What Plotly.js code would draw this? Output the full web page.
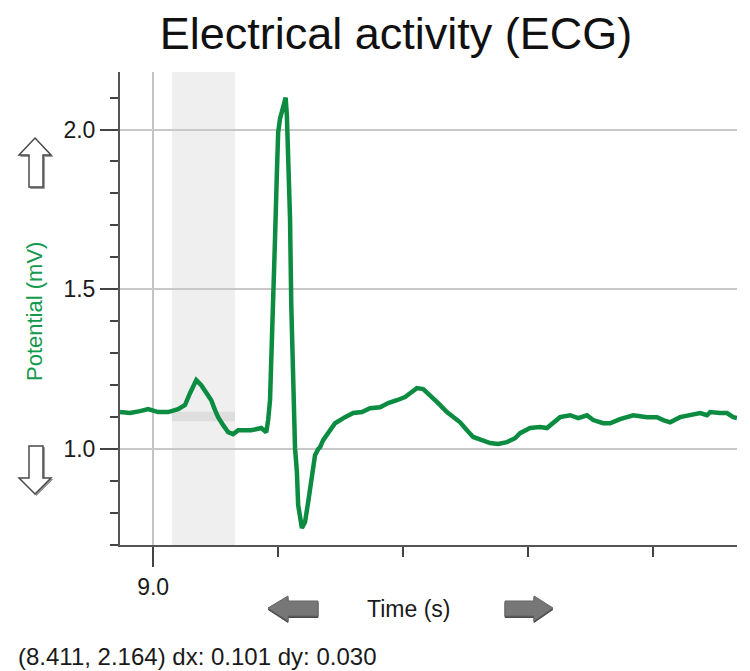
<!DOCTYPE html>
<html>
<head>
<meta charset="utf-8">
<script src="https://cdn.plot.ly/plotly-3.0.1.min.js"></script>
<style>html,body{margin:0;padding:0;background:#fff;}#chart{width:750px;height:671px;}</style>
</head>
<body>
<div id="chart"></div>
<script>
// ECG samples (time in s, potential in mV)
var timeS = [8.947, 8.963, 8.979, 8.992, 9.008, 9.024, 9.040, 9.051, 9.059, 9.064, 9.069, 9.077, 9.085, 9.093, 9.099, 9.104, 9.112, 9.120, 9.128, 9.136, 9.157, 9.173, 9.181, 9.184, 9.187, 9.190, 9.192, 9.195, 9.198, 9.200, 9.203, 9.206, 9.209, 9.212, 9.214, 9.216, 9.219, 9.221, 9.224, 9.227, 9.230, 9.232, 9.238, 9.243, 9.248, 9.254, 9.259, 9.264, 9.267, 9.272, 9.280, 9.291, 9.307, 9.320, 9.334, 9.347, 9.363, 9.376, 9.390, 9.403, 9.411, 9.422, 9.432, 9.443, 9.456, 9.470, 9.480, 9.491, 9.502, 9.512, 9.526, 9.539, 9.552, 9.566, 9.579, 9.587, 9.603, 9.619, 9.630, 9.640, 9.651, 9.667, 9.680, 9.694, 9.704, 9.720, 9.731, 9.747, 9.768, 9.790, 9.806, 9.816, 9.827, 9.843, 9.859, 9.875, 9.886, 9.891, 9.907, 9.918, 9.928, 9.934];
var potentialMV = [1.116, 1.113, 1.119, 1.125, 1.116, 1.116, 1.125, 1.138, 1.175, 1.200, 1.216, 1.200, 1.178, 1.153, 1.122, 1.100, 1.075, 1.053, 1.047, 1.059, 1.059, 1.066, 1.053, 1.091, 1.153, 1.316, 1.475, 1.659, 1.866, 1.991, 2.034, 2.060, 2.085, 2.100, 2.040, 1.940, 1.722, 1.450, 1.163, 1.003, 0.928, 0.825, 0.753, 0.772, 0.834, 0.928, 0.981, 1.000, 1.006, 1.028, 1.050, 1.081, 1.100, 1.113, 1.116, 1.128, 1.131, 1.144, 1.153, 1.163, 1.175, 1.191, 1.188, 1.169, 1.144, 1.116, 1.100, 1.084, 1.059, 1.038, 1.028, 1.019, 1.016, 1.022, 1.034, 1.050, 1.066, 1.069, 1.066, 1.084, 1.100, 1.106, 1.097, 1.106, 1.091, 1.081, 1.081, 1.094, 1.106, 1.100, 1.100, 1.091, 1.084, 1.100, 1.106, 1.113, 1.106, 1.116, 1.113, 1.113, 1.100, 1.097];

var xRange = [8.947, 9.934];
var yRange = [0.70, 2.18];
var xTickVals = [9.0];
var xTickText = ['9.0'];
var yTickVals = [1.0, 1.5, 2.0];
var yTickText = ['1.0', '1.5', '2.0'];
var selectionX = [9.030, 9.131];   // dx 0.101
var selectionY = [1.087, 1.117];   // dy 0.030
var titleText = 'Electrical activity (ECG)';
var yTitle = 'Potential (mV)';
var xTitle = 'Time (s)';
var statusText = '(8.411, 2.164) dx: 0.101 dy: 0.030';

// layout geometry (pixels)
var W = 750, H = 671, L = 120, R = 13, T = 72, B = 126;
var PW = W - L - R, PH = H - T - B;
function px(x) { return (x - L) / PW; }
function py(y) { return (H - B - y) / PH; }
function path(pts) {
  return 'M' + pts.map(function (p) { return px(p[0]).toFixed(5) + ',' + py(p[1]).toFixed(5); }).join(' L') + ' Z';
}
function shift(pts, dx, dy) { return pts.map(function (p) { return [p[0] + dx, p[1] + dy]; }); }

var upArrow = [[35,138],[51,155],[43,155],[43,187],[29,187],[29,155],[19,155]];
var downArrow = [[29,446],[43,446],[43,478],[51,478],[35,494],[19,478],[29,478]];
var leftArrow = [[268,608],[288,596],[288,601],[318,601],[318,616],[288,616],[288,621]];
var rightArrow = [[505,601],[534,601],[534,596],[553,608],[534,621],[534,616],[505,616]];

var FONT = 'Liberation Sans, Arial, sans-serif';

var shapes = [
  {type:'rect', xref:'x', yref:'paper', x0:selectionX[0], x1:selectionX[1], y0:0, y1:1,
   fillcolor:'#efefef', line:{width:0}, layer:'below'},
  {type:'rect', xref:'x', yref:'y', x0:selectionX[0], x1:selectionX[1], y0:selectionY[0], y1:selectionY[1],
   fillcolor:'#dedede', line:{width:0}, layer:'below'},
  {type:'path', xref:'paper', yref:'paper', path:path(shift(upArrow,1.5,1.5)), fillcolor:'#9a9a9a', line:{color:'#9a9a9a', width:1}},
  {type:'path', xref:'paper', yref:'paper', path:path(upArrow), fillcolor:'#ffffff', line:{color:'#4a4a4a', width:1.5}},
  {type:'path', xref:'paper', yref:'paper', path:path(shift(downArrow,1.5,1.5)), fillcolor:'#9a9a9a', line:{color:'#9a9a9a', width:1}},
  {type:'path', xref:'paper', yref:'paper', path:path(downArrow), fillcolor:'#ffffff', line:{color:'#4a4a4a', width:1.5}},
  {type:'path', xref:'paper', yref:'paper', path:path(shift(leftArrow,0,1.5)), fillcolor:'#4a4a4a', line:{color:'#4a4a4a', width:1}},
  {type:'path', xref:'paper', yref:'paper', path:path(leftArrow), fillcolor:'#777777', line:{color:'#666666', width:1}},
  {type:'path', xref:'paper', yref:'paper', path:path(shift(rightArrow,0,1.5)), fillcolor:'#4a4a4a', line:{color:'#4a4a4a', width:1}},
  {type:'path', xref:'paper', yref:'paper', path:path(rightArrow), fillcolor:'#777777', line:{color:'#666666', width:1}}
];

var annotations = [
  {xref:'paper', yref:'paper', x:px(34), y:py(312), text:yTitle, textangle:-90, showarrow:false,
   xanchor:'center', yanchor:'middle', font:{family:FONT, size:22, color:'#139a4c'}},
  {xref:'paper', yref:'paper', x:px(408), y:py(609), text:xTitle, showarrow:false,
   xanchor:'center', yanchor:'middle', font:{family:FONT, size:23, color:'#1a1a1a'}},
  {xref:'paper', yref:'paper', x:px(16), y:py(656), text:statusText, showarrow:false,
   xanchor:'left', yanchor:'middle', font:{family:FONT, size:24, color:'#1a1a1a'}}
];

var trace = {
  x: timeS, y: potentialMV, type:'scatter', mode:'lines',
  line:{color:'#0b8c41', width:4.5}, hoverinfo:'skip'
};

var layout = {
  width: W, height: H,
  margin: {l:L, r:R, t:T, b:B, pad:0},
  paper_bgcolor:'#ffffff', plot_bgcolor:'#ffffff',
  showlegend:false,
  title: {text:titleText, font:{family:FONT, size:45, color:'#111'},
          xref:'container', yref:'container', x:396/W, y:1-33/H, xanchor:'center', yanchor:'middle'},
  xaxis: {
    range:xRange, tickmode:'array', tickvals:xTickVals, ticktext:xTickText,
    ticks:'outside', ticklen:20, tickwidth:2, tickcolor:'#444',
    showgrid:true, gridcolor:'#c4c4c4', gridwidth:2,
    showline:true, linecolor:'#555', linewidth:2, zeroline:false,
    tickfont:{family:FONT, size:23, color:'#1a1a1a'},
    minor:{tickmode:'linear', tick0:9.0, dtick:0.2, ticks:'outside', ticklen:10, tickwidth:2, tickcolor:'#444', showgrid:false}
  },
  yaxis: {
    range:yRange, tickmode:'array', tickvals:yTickVals, ticktext:yTickText,
    ticks:'outside', ticklen:18, tickwidth:2, tickcolor:'#444',
    showgrid:true, gridcolor:'#c8c8c8', gridwidth:2,
    showline:true, linecolor:'#555', linewidth:2, zeroline:false,
    tickfont:{family:FONT, size:23, color:'#1a1a1a'},
    minor:{tickmode:'linear', tick0:0.7, dtick:0.1, ticks:'outside', ticklen:8, tickwidth:2, tickcolor:'#444', showgrid:false}
  },
  shapes: shapes,
  annotations: annotations
};

Plotly.newPlot('chart', [trace], layout, {staticPlot:true, displayModeBar:false});
</script>
</body>
</html>
